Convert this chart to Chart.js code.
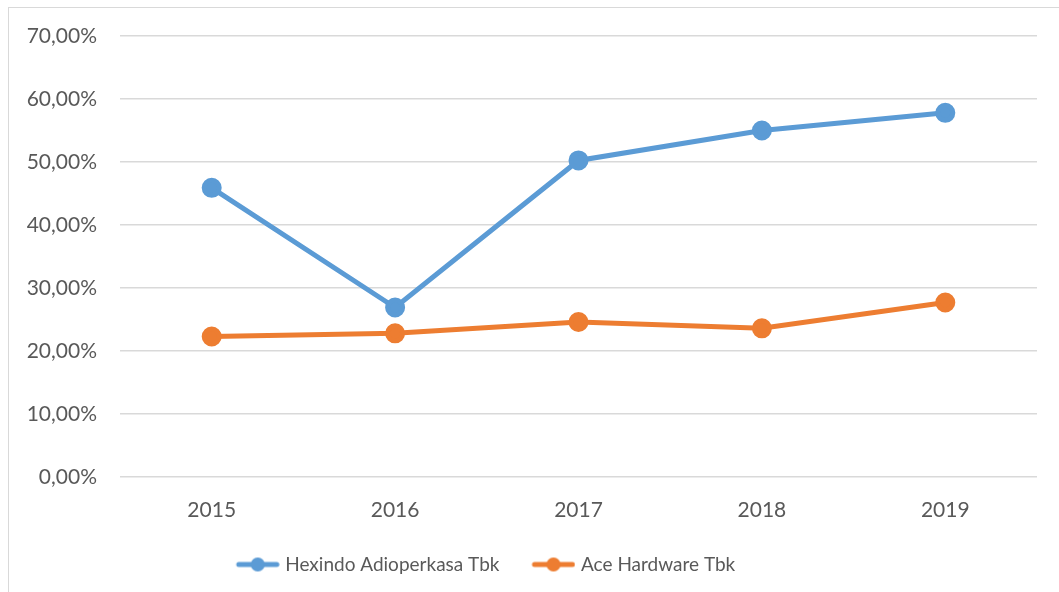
<!DOCTYPE html>
<html>
<head>
<meta charset="utf-8">
<script src="https://cdn.jsdelivr.net/npm/chart.js@4/dist/chart.umd.min.js"></script>
<style>
  html, body { margin: 0; padding: 0; background: #fff; overflow: hidden; }
  #frame { position: absolute; left: 8px; top: 7px; width: 1070px; height: 600px; border: 1px solid #d9d9d9; }
  #wrap { position: absolute; left: 0; top: 0; width: 1059px; height: 592px; }
</style>
</head>
<body>
<div id="frame"></div>
<div id="wrap"><canvas id="chart"></canvas></div>
<script>
// data (percent)
const years = ['2015', '2016', '2017', '2018', '2019'];
const hexindo = [45.9, 26.9, 50.25, 55.0, 57.8];
const aceHardware = [22.3, 22.8, 24.6, 23.6, 27.7];
const yTicks = [0, 10, 20, 30, 40, 50, 60, 70];

const textColor = '#595959';
const fontFamily = 'Lato, "Open Sans", sans-serif';

// legend marker: short line with a dot, with some empty space on the left
function legendMarker(color) {
    const c = document.createElement('canvas');
    c.width = 66; c.height = 16;
    const g = c.getContext('2d');
    g.strokeStyle = color;
    g.lineWidth = 5;
    g.lineCap = 'round';
    g.beginPath();
    g.moveTo(25, 8); g.lineTo(63, 8);
    g.stroke();
    g.fillStyle = color;
    g.beginPath();
    g.arc(44, 8, 7, 0, Math.PI * 2);
    g.fill();
    return c;
}

// the legend sits left of centre in the original
const legendShift = {
    id: 'legendShift',
    afterLayout(chart) {
        const lg = chart.legend;
        if (!lg) return;
        lg.left -= 42;
        lg.right -= 42;
    }
};

const ctx = document.getElementById('chart').getContext('2d');
new Chart(ctx, {
    type: 'line',
    data: {
        labels: years,
        datasets: [
            {
                label: 'Hexindo Adioperkasa Tbk',
                data: hexindo,
                borderColor: '#5B9BD5',
                backgroundColor: '#5B9BD5',
                borderWidth: 5,
                pointRadius: 7.5,
                pointHoverRadius: 7.5,
                pointStyle: 'circle',
                tension: 0
            },
            {
                label: 'Ace Hardware Tbk',
                data: aceHardware,
                borderColor: '#ED7D31',
                backgroundColor: '#ED7D31',
                borderWidth: 5,
                pointRadius: 7.5,
                pointHoverRadius: 7.5,
                pointStyle: 'circle',
                tension: 0
            }
        ]
    },
    plugins: [legendShift],
    options: {
        responsive: true,
        maintainAspectRatio: false,
        animation: false,
        layout: { padding: { left: 0, right: 22, top: 36, bottom: 8 } },
        plugins: {
            tooltip: { enabled: false },
            legend: {
                position: 'bottom',
                labels: {
                    color: textColor,
                    font: { family: fontFamily, size: 19 },
                    usePointStyle: true,
                    pointStyleWidth: 58,
                    padding: 14,
                    generateLabels(chart) {
                        return chart.data.datasets.map((ds, i) => ({
                            text: ds.label,
                            fontColor: textColor,
                            pointStyle: legendMarker(ds.borderColor),
                            datasetIndex: i,
                            hidden: false,
                            lineWidth: 0
                        }));
                    }
                }
            }
        },
        scales: {
            x: {
                offset: true,
                grid: { display: false, drawTicks: false },
                border: { display: false },
                ticks: { color: textColor, font: { family: fontFamily, size: 21 }, padding: 21 },
                afterFit(scale) { scale.height = 64; }
            },
            y: {
                min: 0,
                max: 70,
                afterBuildTicks(scale) { scale.ticks = yTicks.map(v => ({ value: v })); },
                grid: { color: '#d9d9d9', lineWidth: 1.5, drawTicks: false },
                border: { display: false },
                ticks: {
                    color: textColor,
                    font: { family: fontFamily, size: 21 },
                    padding: 23,
                    callback: v => v.toFixed(2).replace('.', ',') + '%'
                },
                afterFit(scale) { scale.width = 120; }
            }
        }
    }
});
</script>
</body>
</html>
